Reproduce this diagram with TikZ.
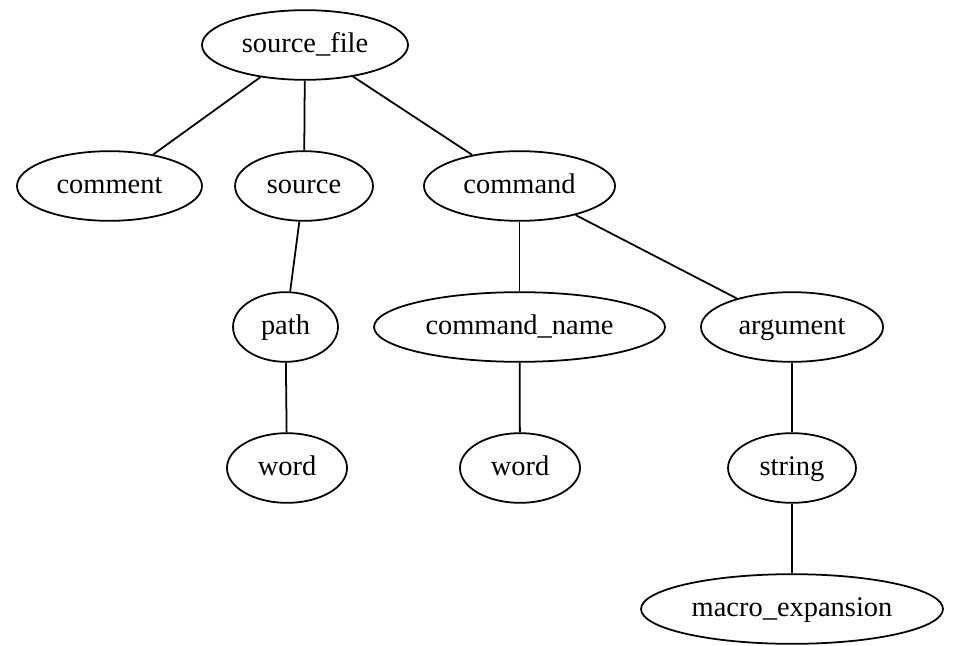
\documentclass[tikz,border=0pt]{standalone}
\usepackage{fontspec}
\setmainfont{Liberation Serif}
\usetikzlibrary{shapes.geometric}
\begin{document}
\begin{tikzpicture}[x=0.5097pt,y=-0.5097pt,
  tnode/.style={ellipse, draw, line width=0.9pt, inner sep=0pt,
    minimum height=35.5pt, text height=9pt, text depth=1pt,
    font=\fontsize{14.5}{16}\selectfont},
  edge/.style={line width=0.9pt}]
\useasboundingbox (0,0) rectangle (953,645);

% rank 0
\node[tnode, minimum width=105pt]   (sf)   at (305,45)  {source\_file};
% rank 1
\node[tnode, minimum width=94.3pt]  (cm)   at (109.5,186) {comment};
\node[tnode, minimum width=70.3pt]  (src)  at (304,186) {source};
\node[tnode, minimum width=97.4pt]  (cmd)  at (519.5,186) {command};
% rank 2
\node[tnode, minimum width=53.5pt]  (pth)  at (285.5,327) {path};
\node[tnode, minimum width=148.3pt] (cn)   at (519.5,327) {command\_name};
\node[tnode, minimum width=92.8pt]  (arg)  at (792,327) {argument};
% rank 3
\node[tnode, minimum width=61.2pt]  (w1)   at (287,468) {word};
\node[tnode, minimum width=61.2pt]  (w2)   at (520,468) {word};
\node[tnode, minimum width=65.2pt]  (str)  at (792,468) {string};
% rank 4
\node[tnode, minimum width=153.9pt] (mac)  at (792,609) {macro\_expansion};

\draw[edge] (sf) -- (cm);
\draw[edge] (sf) -- (src);
\draw[edge] (sf) -- (cmd);
\draw[edge] (src) -- (pth);
\draw[edge] (pth) -- (w1);
\draw[edge] (cmd) -- (cn);
\draw[edge] (cmd) -- (arg);
\draw[edge] (cn) -- (w2);
\draw[edge] (arg) -- (str);
\draw[edge] (str) -- (mac);
\end{tikzpicture}
\end{document}
